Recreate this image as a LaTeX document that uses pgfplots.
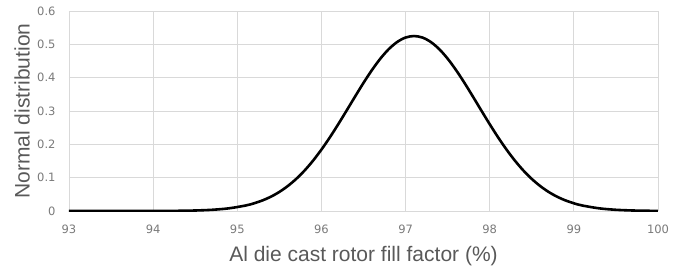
\documentclass[border=0pt]{standalone}
\usepackage{fontspec}
\setmainfont{Liberation Sans}
\newfontfamily\tickfont{DejaVu Sans}
\usepackage{pgfplots}
\pgfplotsset{compat=1.18}
\definecolor{tickgray}{HTML}{7A7A7A}
\definecolor{labelgray}{HTML}{595959}
\definecolor{gridgray}{HTML}{D9D9D9}
\begin{document}
\begin{tikzpicture}
\useasboundingbox (-69bp,-57bp) rectangle (613bp,211bp);
\begin{axis}[
  at={(0,0)}, anchor=origin,
  scale only axis,
  width=589bp, height=200bp,
  xmin=93, xmax=100, ymin=0, ymax=0.6,
  xtick={93,94,...,100},
  ytick={0,0.1,0.2,0.3,0.4,0.5,0.6},
  yticklabels={0,0.1,0.2,0.3,0.4,0.5,0.6},
  xticklabels={93,94,95,96,97,98,99,100},
  grid=major,
  major grid style={gridgray, line width=0.8bp},
  axis line style={draw=none},
  tick style={draw=none},
  /pgf/number format/assume math mode=true,
  xticklabel style={font=\tickfont\fontsize{11.5bp}{12bp}\selectfont, text=tickgray, yshift=-10bp},
  yticklabel style={font=\tickfont\fontsize{11.5bp}{12bp}\selectfont, text=tickgray, xshift=-10bp},
  xlabel={Al die cast rotor fill factor (\%)},
  ylabel={Normal distribution},
  label style={font=\fontsize{21bp}{24bp}\selectfont, text=labelgray},
  xlabel style={at={(axis description cs:0.5,0)}, anchor=base, yshift=-50bp},
  ylabel style={at={(axis description cs:0,0.5)}, anchor=center, yshift=47bp},
]
\addplot[black, line width=2.6bp, smooth] coordinates {
(93,0) (93.5,0) (94,0) (94.1,0.0002) (94.3,0.0006) (94.5,0.0015) (94.7,0.0036)
(94.9,0.0080) (95.1,0.0165) (95.2,0.0231) (95.3,0.0318) (95.4,0.0430)
(95.5,0.0572) (95.6,0.0749) (95.7,0.0962) (95.8,0.1215) (95.9,0.1509)
(96.0,0.1842) (96.1,0.2209) (96.2,0.2604) (96.3,0.3016) (96.4,0.3434)
(96.5,0.3844) (96.6,0.4227) (96.7,0.4570) (96.8,0.4856) (96.9,0.5070)
(97.0,0.5204) (97.1,0.5249) (97.2,0.5204) (97.3,0.5070) (97.4,0.4856)
(97.5,0.4570) (97.6,0.4227) (97.7,0.3844) (97.8,0.3434) (97.9,0.3016)
(98.0,0.2604) (98.1,0.2209) (98.2,0.1842) (98.3,0.1509) (98.4,0.1215)
(98.5,0.0962) (98.6,0.0749) (98.7,0.0572) (98.8,0.0430) (98.9,0.0318)
(99.0,0.0231) (99.1,0.0165) (99.3,0.0080) (99.5,0.0036) (99.7,0.0015)
(99.9,0.0006) (100,0.0004)
};
\end{axis}
\end{tikzpicture}
\end{document}
